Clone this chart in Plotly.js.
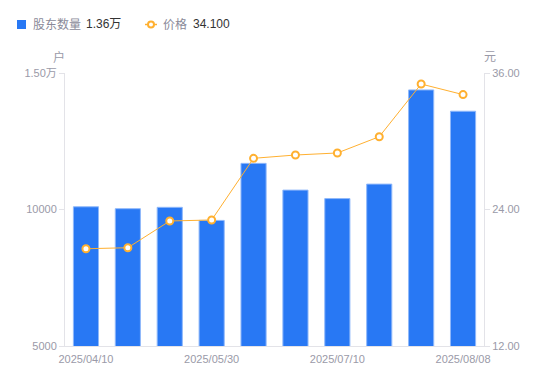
<!DOCTYPE html>
<html>
<head>
<meta charset="utf-8">
<script src="https://cdn.plot.ly/plotly-3.0.1.min.js"></script>
<style>html,body{margin:0;padding:0;background:#fff;}#chart{width:550px;height:381px;}</style>
</head>
<body>
<div id="chart"></div>
<script>
var dates = ['2025/04/10','2025/04/25','2025/05/09','2025/05/30','2025/06/10','2025/06/20','2025/07/10','2025/07/18','2025/07/31','2025/08/08'];
var holders = [10100, 10030, 10080, 9600, 11690, 10710, 10400, 10930, 14380, 13600];
var prices = [20.55, 20.64, 22.99, 23.08, 28.50, 28.79, 28.97, 30.40, 35.03, 34.10];
var xTickVals = ['2025/04/10','2025/05/30','2025/07/10','2025/08/08'];
var yLeftTickVals = [5000, 10000, 15000];
var yLeftTickText = ['5000', '10000', '1.50万'];
var yRightTickVals = [12, 24, 36];
var yRightTickText = ['12.00', '24.00', '36.00'];

var W = 550, H = 381, ML = 65, MR = 66, MT = 73, MB = 35;
var PW = W - ML - MR, PH = H - MT - MB;
function px(x){ return (x - ML) / PW; }
function py(y){ return (H - MB - y) / PH; }

var FONT = 'Liberation Sans, Arial, Noto Sans CJK SC, sans-serif';
var GRAY = '#9a9aa8';
var BLUE = '#2878f4';
var ORANGE = '#ffb030';

var lastHolders = (holders[holders.length-1] / 10000).toFixed(2) + '万';
var lastPrice = prices[prices.length-1].toFixed(3);

var traces = [
  {
    type: 'bar', x: dates, y: holders, yaxis: 'y', name: '股东数量',
    marker: {color: BLUE, line: {color: '#8fb8fa', width: 1}},
    hoverinfo: 'skip'
  },
  {
    type: 'scatter', mode: 'lines+markers', x: dates, y: prices, yaxis: 'y2', name: '价格',
    line: {color: ORANGE, width: 1},
    marker: {symbol: 'circle', size: 7, color: '#ffffff', line: {color: ORANGE, width: 2}},
    hoverinfo: 'skip', cliponaxis: false
  }
];

var layout = {
  width: W, height: H,
  margin: {l: ML, r: MR, t: MT, b: MB, pad: 0},
  paper_bgcolor: '#fff', plot_bgcolor: '#fff',
  showlegend: false,
  bargap: 0.4,
  font: {family: FONT, size: 11, color: GRAY},
  xaxis: {
    type: 'category', range: [-0.5, dates.length - 0.5],
    tickmode: 'array', tickvals: xTickVals, ticktext: xTickVals,
    showgrid: false, zeroline: false,
    showline: true, linecolor: '#e3e3e8', linewidth: 1,
    ticks: '', ticklabelstandoff: 3, tickfont: {size: 11, color: GRAY, family: FONT}
  },
  yaxis: {
    range: [5000, 15000], tickmode: 'array', tickvals: yLeftTickVals, ticktext: yLeftTickText,
    showgrid: false, zeroline: false,
    showline: true, linecolor: '#e3e3e8', linewidth: 1,
    ticks: 'outside', ticklen: 5, tickcolor: '#e3e3e8', tickwidth: 1,
    tickfont: {size: 11, color: GRAY, family: FONT}
  },
  yaxis2: {
    overlaying: 'y', side: 'right', range: [12, 36],
    tickmode: 'array', tickvals: yRightTickVals, ticktext: yRightTickText,
    showgrid: false, zeroline: false,
    showline: true, linecolor: '#e3e3e8', linewidth: 1,
    ticks: 'outside', ticklen: 5, tickcolor: '#e3e3e8', tickwidth: 1,
    tickfont: {size: 11, color: GRAY, family: FONT}
  },
  shapes: [
    {type: 'rect', xref: 'paper', yref: 'paper', x0: px(17), x1: px(26), y0: py(29), y1: py(20),
     fillcolor: BLUE, line: {width: 0}},
    {type: 'line', xref: 'paper', yref: 'paper', x0: px(145), x1: px(157), y0: py(24.5), y1: py(24.5),
     line: {color: ORANGE, width: 1.5}},
    {type: 'circle', xref: 'paper', yref: 'paper', x0: px(148), x1: px(154), y0: py(27.5), y1: py(21.5),
     fillcolor: '#fff', line: {color: ORANGE, width: 2}}
  ],
  annotations: [
    {xref: 'paper', yref: 'paper', x: px(31), y: py(24.5), xanchor: 'left', yanchor: 'middle',
     text: '股东数量', showarrow: false, font: {size: 12, color: '#8a8a99', family: FONT}},
    {xref: 'paper', yref: 'paper', x: px(84), y: py(24.5), xanchor: 'left', yanchor: 'middle',
     text: lastHolders, showarrow: false, font: {size: 12, color: '#333', family: FONT}},
    {xref: 'paper', yref: 'paper', x: px(161), y: py(24.5), xanchor: 'left', yanchor: 'middle',
     text: '价格', showarrow: false, font: {size: 12, color: '#8a8a99', family: FONT}},
    {xref: 'paper', yref: 'paper', x: px(191), y: py(24.5), xanchor: 'left', yanchor: 'middle',
     text: lastPrice, showarrow: false, font: {size: 12, color: '#333', family: FONT}},
    {xref: 'paper', yref: 'paper', x: px(59), y: py(57), xanchor: 'center', yanchor: 'middle',
     text: '户', showarrow: false, font: {size: 12, color: GRAY, family: FONT}},
    {xref: 'paper', yref: 'paper', x: px(490), y: py(57), xanchor: 'center', yanchor: 'middle',
     text: '元', showarrow: false, font: {size: 12, color: GRAY, family: FONT}}
  ]
};

Plotly.newPlot('chart', traces, layout, {displayModeBar: false, staticPlot: true});
</script>
</body>
</html>
